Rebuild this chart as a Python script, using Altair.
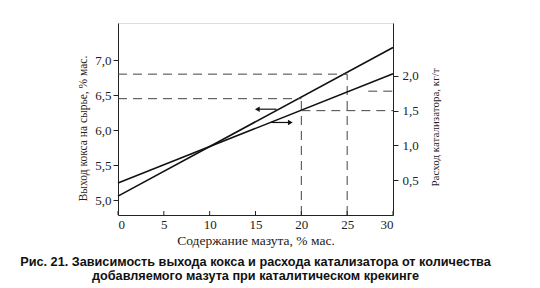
import altair as alt
import pandas as pd

# ---- data ----
x_vals = [0, 30]
coke = [5.06, 7.18]          # left axis, % мас.
catalyst = [0.46, 2.03]      # right axis, кг/т

x_ticks = [0, 5, 10, 15, 20, 25, 30]
left_ticks = [5.0, 5.5, 6.0, 6.5, 7.0]
right_ticks = [0.5, 1.0, 1.5, 2.0]

# dashed reading guides (left scale)
gl_x = [0, 0, 20, 25]
gl_x2 = [20, 25, 20, 25]
gl_y = [6.45, 6.8, 4.79, 4.79]
gl_y2 = [6.45, 6.8, 6.45, 6.8]
# dashed reading guides (right scale)
gr_x = [20, 27.3]
gr_x2 = [30, 30]
gr_y = [1.5, 1.78]

# arrows: tail x, head x, level
arrow_left = {"x": [17.3], "x2": [15.2], "y": [6.30]}
arrow_right = {"x": [16.7], "x2": [18.8], "y": [1.33]}

LEFT_DOMAIN = [4.79, 7.53]
RIGHT_DOMAIN = [0, 2.76]
W, H = 275, 192
SERIF = "Liberation Serif"
comma = "replace(format(datum.value, '.1f'), '.', ',')"

X = alt.X("x:Q", scale=alt.Scale(domain=[0, 30], nice=False, zero=False),
          axis=alt.Axis(values=x_ticks, title="Содержание мазута, % мас.", ticks=False,
                        grid=False, labelFont=SERIF, labelFontSize=13, labelPadding=3,
                        titleFont=SERIF, titleFontSize=13.5, titleFontWeight="normal",
                        titlePadding=2, labelColor="#222", titleColor="#222",
                        domainColor="#222"))
X2 = alt.X2("x2:Q")

YL = alt.Y("y:Q", scale=alt.Scale(domain=LEFT_DOMAIN, nice=False, zero=False),
           axis=alt.Axis(values=left_ticks, labelExpr=comma, orient="left", grid=False,
                         title="Выход кокса на сырье, % мас.", tickSize=5, labelPadding=2,
                         labelFont=SERIF, labelFontSize=13, titleFont=SERIF,
                         titleFontSize=11.5, titleFontWeight="normal", titlePadding=6,
                         titleY=105, labelColor="#222", titleColor="#222",
                         tickColor="#222", domainColor="#222"))
YR = alt.Y("y:Q", scale=alt.Scale(domain=RIGHT_DOMAIN, nice=False, zero=False),
           axis=alt.Axis(values=right_ticks, labelExpr=comma, orient="right", grid=False,
                         title="Расход катализатора, кг/т", tickSize=5, labelPadding=4,
                         labelFont=SERIF, labelFontSize=13, titleFont=SERIF,
                         titleFontSize=11, titleFontWeight="normal", titlePadding=11,
                         titleAngle=270, titleBaseline="top", titleY=104,
                         labelColor="#222", titleColor="#222",
                         tickColor="#222", domainColor="#222"))

coke_df = pd.DataFrame({"x": x_vals, "y": coke})
cat_df = pd.DataFrame({"x": x_vals, "y": catalyst})
gl_df = pd.DataFrame({"x": gl_x, "x2": gl_x2, "y": gl_y, "y2": gl_y2})
gr_df = pd.DataFrame({"x": gr_x, "x2": gr_x2, "y": gr_y})
al_df = pd.DataFrame(arrow_left)
ar_df = pd.DataFrame(arrow_right)
tick_df = pd.DataFrame({"x": x_ticks})

dash = dict(strokeDash=[9, 6], strokeWidth=1, color="#444")

coke_line = alt.Chart(coke_df).mark_line(color="#111", strokeWidth=1.6).encode(x=X, y=YL)
left_guides = alt.Chart(gl_df).mark_rule(**dash).encode(x=X, x2=X2, y=YL, y2=alt.Y2("y2:Q"))
left_arrow = alt.Chart(al_df).mark_rule(color="#111", strokeWidth=1.2).encode(x=X, x2=X2, y=YL)
left_head = alt.Chart(al_df).mark_point(shape="triangle-left", filled=True, color="#111",
                                        size=30, opacity=1).encode(x=alt.X("x2:Q"), y=YL)
x_inward_ticks = alt.Chart(tick_df).mark_rule(color="#222", strokeWidth=1).encode(
    x=X, y=alt.value(H), y2=alt.value(H - 4))

cat_line = alt.Chart(cat_df).mark_line(color="#111", strokeWidth=1.6).encode(x=X, y=YR)
right_guides = alt.Chart(gr_df).mark_rule(**dash).encode(x=X, x2=X2, y=YR)
right_arrow = alt.Chart(ar_df).mark_rule(color="#111", strokeWidth=1.2).encode(x=X, x2=X2, y=YR)
right_head = alt.Chart(ar_df).mark_point(shape="triangle-right", filled=True, color="#111",
                                         size=30, opacity=1).encode(x=alt.X("x2:Q"), y=YR)

left = alt.layer(coke_line, left_guides, left_arrow, left_head, x_inward_ticks)
right = alt.layer(cat_line, right_guides, right_arrow, right_head)

chart = alt.layer(left, right).resolve_scale(y="independent").properties(
    width=W, height=H,
    autosize=alt.AutoSizeParams(type="none"),
    padding={"left": 118, "top": 23, "right": 147, "bottom": 73},
    title=alt.TitleParams(
        text=["Рис. 21. Зависимость выхода кокса и расхода катализатора от количества",
              "добавляемого мазута при каталитическом крекинге"],
        orient="bottom", anchor="middle", font="Liberation Sans", fontWeight="bold",
        fontSize=12.7, lineHeight=14, offset=9, color="#111"),
).configure_view(stroke="#222", strokeWidth=1).configure(background="white")

chart.save("out.html", embed_options={"renderer": "svg", "actions": False})
